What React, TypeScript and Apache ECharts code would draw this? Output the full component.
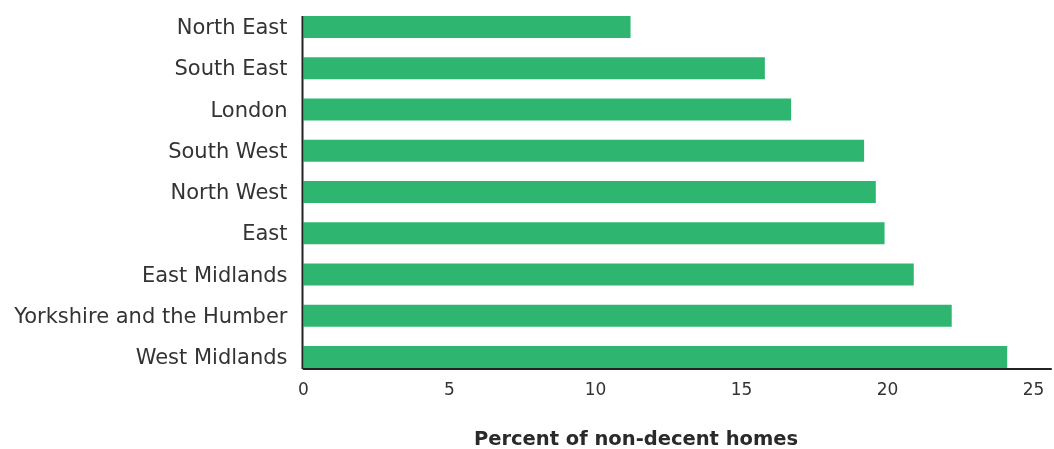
import React, { useEffect, useRef } from "react";
import * as echarts from "echarts";

const categories = [
  "North East",
  "South East",
  "London",
  "South West",
  "North West",
  "East",
  "East Midlands",
  "Yorkshire and the Humber",
  "West Midlands",
];
const values = [11.2, 15.8, 16.7, 19.2, 19.6, 19.9, 20.9, 22.2, 24.1];
const xTicks = [0, 5, 10, 15, 20, 25];
const axisTitle = "Percent of non-decent homes";

const FONT = "'DejaVu Sans', sans-serif";

export default function App() {
  const ref = useRef<HTMLDivElement>(null);
  useEffect(() => {
    if (!ref.current) return;
    const chart = echarts.init(ref.current, null, { renderer: "svg" });
    chart.setOption({
      animation: false,
      grid: { left: 303.5, right: 0, top: 6.4, bottom: 71.35, containLabel: false },
      xAxis: {
        type: "value",
        min: 0,
        max: 25.6,
        interval: 5,
        offset: -8.6,
        splitLine: { show: false },
        axisTick: { show: false },
        axisLine: { show: true, lineStyle: { color: "#222", width: 2 } },
        axisLabel: {
          margin: 11,
          fontFamily: FONT,
          fontSize: 17,
          color: "#333",
          formatter: (v: number) => (xTicks.includes(v) ? String(v) : ""),
        },
      },
      yAxis: {
        type: "category",
        data: categories,
        inverse: true,
        axisLine: { show: false },
        axisTick: { show: false },
        axisLabel: { margin: 16, fontFamily: FONT, fontSize: 21, color: "#333" },
      },
      series: [
        {
          type: "bar",
          data: values,
          barWidth: 22,
          itemStyle: { color: "#2eb670" },
        },
      ],
      graphic: [
        {
          type: "line",
          shape: { x1: 302.5, y1: 16, x2: 302.5, y2: 369 },
          style: { stroke: "#222", lineWidth: 2 },
          z: 10,
        },
        {
          type: "text",
          x: 636,
          y: 438,
          style: {
            text: axisTitle,
            fontFamily: FONT,
            fontSize: 19.5,
            fontWeight: "bold",
            fill: "#2a2a2a",
            textAlign: "center",
            textVerticalAlign: "middle",
          },
        },
      ],
    });
    return () => chart.dispose();
  }, []);
  return (
    <div
      ref={ref}
      style={{ position: "fixed", left: 0, top: 0, width: 1054, height: 449 }}
    />
  );
}
